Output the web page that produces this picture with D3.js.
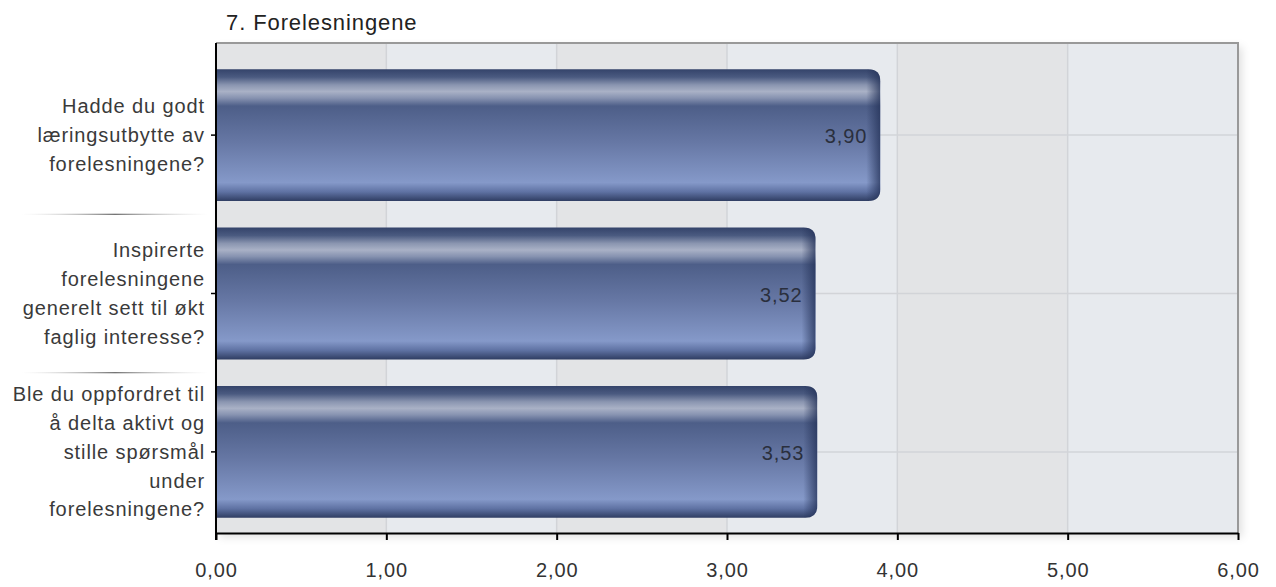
<!DOCTYPE html>
<html>
<head>
<meta charset="utf-8">
<script src="https://cdn.jsdelivr.net/npm/d3@7"></script>
<style>
  body { margin: 0; background: #fff; }
  text { font-family: "Liberation Sans", Arial, sans-serif; letter-spacing: 0.9px; }
</style>
</head>
<body>
<svg id="chart" width="1276" height="587"></svg>
<script>
// chart data
var title = "7. Forelesningene"
var questions = [
    ["Hadde du godt", "læringsutbytte av", "forelesningene?"],
    ["Inspirerte", "forelesningene", "generelt sett til økt", "faglig interesse?"],
    ["Ble du oppfordret til", "å delta aktivt og", "stille spørsmål", "under", "forelesningene?"]
]
var scores = [3.90, 3.52, 3.53]
var ticks = [0, 1, 2, 3, 4, 5, 6]

var plotL = 216, plotR = 1238, plotT = 43, plotB = 533
var svg = d3.select("#chart")
var fmt = function (v) { return v.toFixed(2).replace(".", ",") }

var x = d3.scaleLinear().domain([0, 6]).range([plotL, plotR])
var y = d3.scaleBand().domain(d3.range(questions.length)).range([56, 531]).paddingInner(0.167).paddingOuter(0.083)

var defs = svg.append("defs")
// shadow of plot area
var f = defs.append("filter").attr("id", "shadow").attr("x", "-5%").attr("y", "-5%").attr("width", "110%").attr("height", "115%")
f.append("feDropShadow").attr("dx", 4).attr("dy", 4).attr("stdDeviation", 4).attr("flood-color", "#000").attr("flood-opacity", 0.12)

// bar gradient (vertical)
var g1 = defs.append("linearGradient").attr("id", "barv").attr("x1", 0).attr("y1", 0).attr("x2", 0).attr("y2", 1)
var stops = [[0, "#34436a"], [0.06, "#4a5a80"], [0.12, "#8a95b0"], [0.17, "#a9b1c6"], [0.22, "#8692b0"], [0.28, "#4d5e88"], [0.55, "#6677a4"], [0.86, "#8599c9"], [0.93, "#5f72a3"], [1, "#2f3d62"]]
stops.forEach(function (s) { g1.append("stop").attr("offset", s[0]).attr("stop-color", s[1]) })
// darker right edge
var g2 = defs.append("linearGradient").attr("id", "barh").attr("x1", 0).attr("y1", 0).attr("x2", 1).attr("y2", 0)
g2.append("stop").attr("offset", 0).attr("stop-color", "#223056").attr("stop-opacity", 0)
g2.append("stop").attr("offset", 1).attr("stop-color", "#223056").attr("stop-opacity", 0.75)
// separator line gradient
var g3 = defs.append("linearGradient").attr("id", "sep").attr("x1", 0).attr("y1", 0).attr("x2", 1).attr("y2", 0)
g3.append("stop").attr("offset", 0).attr("stop-color", "#ccc").attr("stop-opacity", 0)
g3.append("stop").attr("offset", 0.5).attr("stop-color", "#666")
g3.append("stop").attr("offset", 1).attr("stop-color", "#ccc").attr("stop-opacity", 0)

// title
svg.append("text").attr("x", 226).attr("y", 30).attr("font-size", 22).attr("fill", "#222").text(title)

// plot background with alternating columns
svg.append("rect").attr("x", plotL).attr("y", plotT).attr("width", plotR - plotL).attr("height", plotB - plotT)
    .attr("fill", "#e5e8ec").attr("filter", "url(#shadow)")
svg.selectAll("rect.col").data(d3.range(6)).enter().append("rect").attr("class", "col")
    .attr("x", function (d) { return x(d) }).attr("y", plotT)
    .attr("width", function (d) { return x(d + 1) - x(d) }).attr("height", plotB - plotT)
    .attr("fill", function (d) { return d % 2 == 0 ? "#e3e4e6" : "#e7eaee" })

// grid lines
svg.selectAll("line.vgrid").data(ticks.slice(1, -1)).enter().append("line").attr("class", "vgrid")
    .attr("x1", x).attr("x2", x).attr("y1", plotT).attr("y2", plotB)
    .attr("stroke", "#d2d4d8").attr("stroke-width", 1.5)
svg.selectAll("line.hgrid").data(d3.range(questions.length)).enter().append("line").attr("class", "hgrid")
    .attr("x1", plotL).attr("x2", plotR)
    .attr("y1", function (d) { return y(d) + y.bandwidth() / 2 }).attr("y2", function (d) { return y(d) + y.bandwidth() / 2 })
    .attr("stroke", "#d2d4d8").attr("stroke-width", 1.5)

// plot border top/right
svg.append("path").attr("d", "M" + plotL + "," + plotT + "H" + plotR + "V" + plotB)
    .attr("fill", "none").attr("stroke", "#999").attr("stroke-width", 2)

// bars: square left, rounded right
var r = 12
function barPath(d, i) {
    var x0 = x(0), x1 = x(d), y0 = y(i), y1 = y(i) + y.bandwidth()
    return "M" + x0 + "," + y0 + "H" + (x1 - r) + "Q" + x1 + "," + y0 + " " + x1 + "," + (y0 + r) +
        "V" + (y1 - r) + "Q" + x1 + "," + y1 + " " + (x1 - r) + "," + y1 + "H" + x0 + "Z"
}
scores.forEach(function (d, i) {
    defs.append("clipPath").attr("id", "clip" + i).append("path").attr("d", barPath(d, i))
})
var bars = svg.selectAll("g.bar").data(scores).enter().append("g").attr("class", "bar")
bars.append("path").attr("d", barPath).attr("fill", "url(#barv)")
bars.append("rect")
    .attr("x", function (d) { return x(d) - 14 }).attr("y", function (d, i) { return y(i) })
    .attr("width", 14).attr("height", y.bandwidth())
    .attr("fill", "url(#barh)")
    .attr("clip-path", function (d, i) { return "url(#clip" + i + ")" })
bars.append("text")
    .attr("x", function (d) { return x(d) - 13 })
    .attr("y", function (d, i) { return y(i) + y.bandwidth() / 2 + 8 })
    .attr("text-anchor", "end").attr("font-size", 20).attr("fill", "#2a2f3d")
    .text(fmt)

// axes
var xAxis = svg.append("g").attr("transform", "translate(0," + plotB + ")")
    .call(d3.axisBottom(x).tickValues(ticks).tickFormat(fmt).tickSize(7).tickSizeOuter(0))
xAxis.select(".domain").attr("stroke", "#000").attr("stroke-width", 2)
xAxis.selectAll(".tick line").attr("stroke", "#000").attr("stroke-width", 2)
xAxis.selectAll(".tick text").attr("font-size", 20).attr("fill", "#333").attr("y", 30).attr("dy", "0.71em")
    .style("font-family", "'Liberation Sans', Arial, sans-serif")

svg.append("line").attr("x1", plotL).attr("x2", plotL).attr("y1", plotT).attr("y2", plotB + 7)
    .attr("stroke", "#000").attr("stroke-width", 2)
svg.selectAll("line.ytick").data(d3.range(questions.length)).enter().append("line").attr("class", "ytick")
    .attr("x1", plotL - 5).attr("x2", plotL)
    .attr("y1", function (d) { return y(d) + y.bandwidth() / 2 }).attr("y2", function (d) { return y(d) + y.bandwidth() / 2 })
    .attr("stroke", "#000").attr("stroke-width", 1.5)

// category separators (thin rects so the gradient has a bounding box)
svg.selectAll("rect.sep").data([1, 2]).enter().append("rect").attr("class", "sep")
    .attr("x", 22).attr("width", 186).attr("height", 1.2)
    .attr("y", function (d) { return y(d) - y.step() * y.paddingInner() / 2 - 0.6 })
    .attr("fill", "url(#sep)")

// category labels
var lh = 28.8
svg.selectAll("text.cat").data(questions).enter().append("text").attr("class", "cat")
    .attr("text-anchor", "end").attr("font-size", 20).attr("fill", "#3a3a3a")
    .each(function (lines, i) {
        var cy = y(i) + y.bandwidth() / 2
        var t = d3.select(this)
        lines.forEach(function (l, k) {
            t.append("tspan").attr("x", 205)
                .attr("y", cy + (k - (lines.length - 1) / 2) * lh + 7)
                .text(l)
        })
    })
</script>
</body>
</html>
